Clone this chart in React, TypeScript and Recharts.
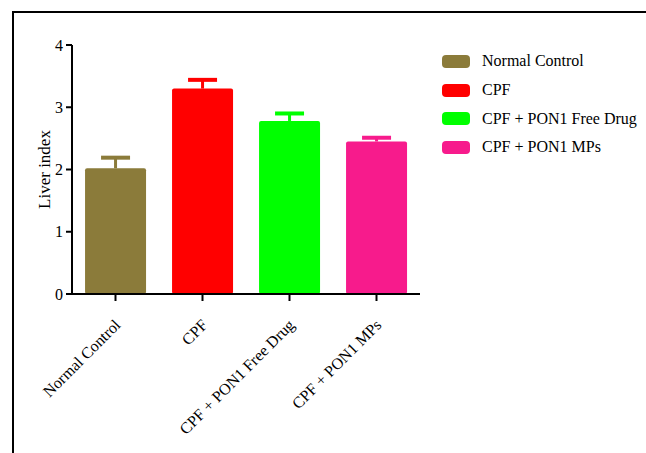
import React from 'react';
import { BarChart, Bar, Cell, XAxis, YAxis, Legend } from 'recharts';

const groups = ['Normal Control', 'CPF', 'CPF + PON1 Free Drug', 'CPF + PON1 MPs'];
const means = [2.02, 3.3, 2.78, 2.45];
const errors = [0.17, 0.14, 0.12, 0.06];
const colors = ['#8B7B3A', '#FF0000', '#00FF00', '#F71B8C'];
const yTicks = [0, 1, 2, 3, 4];

const data = groups.map((name, i) => ({ name, value: means[i], err: errors[i], color: colors[i] }));

const FONT = '"Liberation Serif", "Times New Roman", serif';

// bar with its own upward error bar, scaled from the bar's own pixel height
const BarWithError = (props: any) => {
  const { x, y, width, height, payload } = props;
  const fill = payload.color;
  const pxPerUnit = height / payload.value;
  const top = y - payload.err * pxPerUnit;
  const cx = x + width / 2;
  return (
    <g>
      <rect x={x} y={y} width={width} height={height} rx={2} ry={2} fill={fill} />
      <line x1={cx} y1={y} x2={cx} y2={top} stroke={fill} strokeWidth={3} />
      <line x1={cx - 14.5} y1={top} x2={cx + 14.5} y2={top} stroke={fill} strokeWidth={4} />
    </g>
  );
};

const AngledTick = (props: any) => {
  const { x, y, payload } = props;
  const ax = x + 6;
  const ay = y + 23;
  return (
    <text
      x={ax}
      y={ay}
      transform={`rotate(-45, ${ax}, ${ay})`}
      textAnchor="end"
      fontSize={16}
      fontFamily={FONT}
      fill="#000"
    >
      {payload.value}
    </text>
  );
};

const LegendBox = () => (
  <div style={{ fontFamily: FONT, fontSize: 16, color: '#000' }}>
    {groups.map((g, i) => (
      <div key={g} style={{ display: 'flex', alignItems: 'center', height: 28.7 }}>
        <span
          style={{
            display: 'inline-block',
            width: 28,
            height: 13,
            borderRadius: 4,
            background: colors[i],
            marginRight: 12,
          }}
        />
        <span>{g}</span>
      </div>
    ))}
  </div>
);

export default function App() {
  return (
    <div style={{ position: 'absolute', left: 0, top: 0, width: 646, height: 453, background: '#fff' }}>
      <div
        style={{
          position: 'absolute',
          left: 12,
          top: 11,
          right: 0,
          bottom: 0,
          borderTop: '2px solid #000',
          borderLeft: '2px solid #000',
        }}
      />
      <div style={{ position: 'absolute', left: 0, top: 0 }}>
        <BarChart
          width={646}
          height={453}
          data={data}
          margin={{ top: 45, right: 226, left: 0, bottom: 0 }}
          barCategoryGap="15%"
        >
          <XAxis
            dataKey="name"
            height={159}
            interval={0}
            axisLine={{ stroke: '#000', strokeWidth: 2 }}
            tickLine={{ stroke: '#000', strokeWidth: 2 }}
            tickSize={7}
            tickMargin={2}
            tick={<AngledTick />}
          />
          <YAxis
            width={72}
            domain={[0, 4]}
            ticks={yTicks}
            axisLine={{ stroke: '#000', strokeWidth: 2 }}
            tickLine={{ stroke: '#000', strokeWidth: 2 }}
            tickSize={6}
            tickMargin={3}
            tick={{ fill: '#000', fontSize: 16, fontFamily: FONT }}
            label={{
              value: 'Liver index',
              angle: -90,
              position: 'insideLeft',
              offset: 44,
              style: { fill: '#000', fontSize: 17, fontFamily: FONT, textAnchor: 'middle' },
            }}
          />
          <Legend
            layout="vertical"
            verticalAlign="middle"
            align="center"
            content={<LegendBox />}
            wrapperStyle={{ position: 'absolute', left: 442, top: 47, width: 204 }}
          />
          <Bar dataKey="value" shape={<BarWithError />} isAnimationActive={false}>
            {data.map((d) => (
              <Cell key={d.name} fill={d.color} />
            ))}
          </Bar>
        </BarChart>
      </div>
    </div>
  );
}
